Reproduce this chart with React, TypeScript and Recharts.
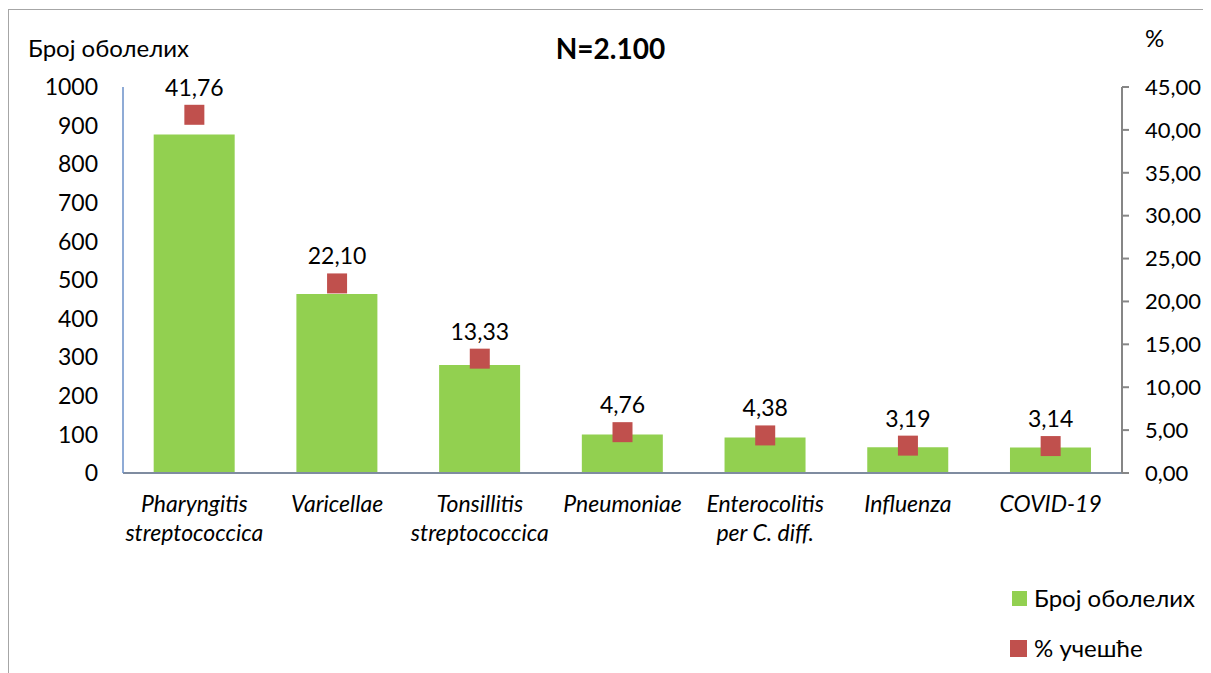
import { Bar, ComposedChart, LabelList, Line, XAxis, YAxis } from "recharts";

const categories = [
  "Pharyngitis\nstreptococcica",
  "Varicellae",
  "Tonsillitis\nstreptococcica",
  "Pneumoniae",
  "Enterocolitis\nper C. diff.",
  "Influenza",
  "COVID-19"
];
const cases = [877, 464, 280, 100, 92, 67, 66];
const shares = [41.76, 22.1, 13.33, 4.76, 4.38, 3.19, 3.14];
const leftTicks = [0, 100, 200, 300, 400, 500, 600, 700, 800, 900, 1000];
const rightTicks = [0, 5, 10, 15, 20, 25, 30, 35, 40, 45];

const data = categories.map((name, i) => ({
  name,
  cases: cases[i],
  share: shares[i]
}));

const FONT = "Lato, 'Open Sans', sans-serif";
const fmt = (v: number) => v.toFixed(2).replace(".", ",");

function CategoryTick({ x, y, payload }: any) {
  const lines = String(payload.value).split("\n");
  return (
    <text
      x={x}
      y={y + 31}
      textAnchor="middle"
      fontFamily={FONT}
      fontStyle="italic"
      fontSize={23}
      fill="#000"
    >
      {lines.map((l, i) => (
        <tspan key={i} x={x} dy={i === 0 ? 0 : 29}>
          {l}
        </tspan>
      ))}
    </text>
  );
}

function Square({ cx, cy }: any) {
  if (cx == null || cy == null) return null;
  return <rect x={cx - 10} y={cy - 10} width={20} height={20} fill="#c0504d" />;
}

export default function App() {
  return (
    <div
      style={{
        position: "relative",
        width: 1202,
        height: 664,
        overflow: "hidden",
        marginTop: 1,
        borderTop: "1px solid #a6a6a6",
        borderLeft: "1px solid #a6a6a6",
        fontFamily: FONT,
        background: "#fff"
      }}
    >
      <div style={{ position: "absolute", left: 19, top: 23, fontSize: 24, lineHeight: "30px" }}>
        Број оболелих
      </div>
      <div
        style={{
          position: "absolute",
          left: 0,
          width: 1203,
          top: 23,
          textAlign: "center",
          fontSize: 28,
          lineHeight: "30px",
          fontWeight: 700
        }}
      >
        N=2.100
      </div>
      <div style={{ position: "absolute", left: 1136, top: 13, fontSize: 24, lineHeight: "30px" }}>%</div>

      <ComposedChart
        width={1202}
        height={664}
        data={data}
        margin={{ top: 77, right: 9, bottom: 141, left: 14 }}
        barCategoryGap="21.5%"
      >
        <XAxis
          dataKey="name"
          xAxisId={0}
          interval={0}
          tick={<CategoryTick />}
          tickLine={false}
          axisLine={{ stroke: "#7f8ca0", strokeWidth: 2 }}
          height={60}
        />
        <XAxis
          dataKey="name"
          xAxisId="top"
          orientation="top"
          tick={false}
          tickLine={false}
          axisLine={{ stroke: "#4f81bd", strokeWidth: 1.5 }}
          height={0}
        />
        <YAxis
          yAxisId="left"
          domain={[0, 1000]}
          ticks={leftTicks}
          width={100}
          tickLine={false}
          tickSize={0}
          tickMargin={25}
          axisLine={{ stroke: "#6a8fc8", strokeWidth: 1.5 }}
          tick={{ fill: "#000", fontSize: 23, fontFamily: FONT }}
        />
        <YAxis
          yAxisId="right"
          orientation="right"
          domain={[0, 45]}
          ticks={rightTicks}
          width={80}
          tickSize={7}
          tickMargin={16}
          tickLine={{ stroke: "#868686", strokeWidth: 2 }}
          axisLine={{ stroke: "#868686", strokeWidth: 2 }}
          tickFormatter={fmt}
          tick={{ fill: "#000", fontSize: 22, fontFamily: FONT, textAnchor: "start" }}
        />
        <Bar
          dataKey="cases"
          yAxisId="left"
          fill="#92d050"
          isAnimationActive={false}
        />
        <Line
          dataKey="share"
          yAxisId="right"
          stroke="none"
          dot={<Square />}
          activeDot={false}
          isAnimationActive={false}
        >
          <LabelList
            dataKey="share"
            position="top"
            offset={19}
            formatter={(v: any) => fmt(Number(v))}
            style={{ fill: "#000", fontSize: 23, fontFamily: FONT }}
          />
        </Line>
      </ComposedChart>

      <div style={{ position: "absolute", left: 1003, top: 573, fontSize: 24, lineHeight: "30px", display: "flex", alignItems: "center" }}>
        <span style={{ display: "inline-block", width: 15, height: 15, background: "#92d050", marginRight: 7 }} />
        Број оболелих
      </div>
      <div style={{ position: "absolute", left: 1001, top: 623, fontSize: 24, lineHeight: "30px", display: "flex", alignItems: "center" }}>
        <span style={{ display: "inline-block", width: 17, height: 17, background: "#c0504d", marginRight: 7 }} />
        % учешће
      </div>
    </div>
  );
}
